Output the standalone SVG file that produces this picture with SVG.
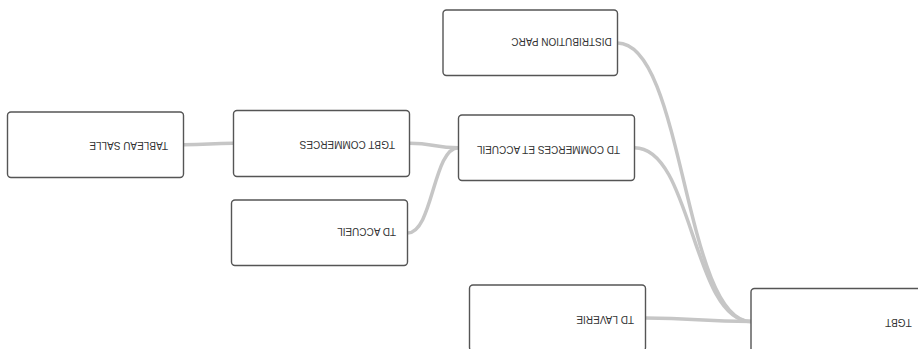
<svg xmlns="http://www.w3.org/2000/svg" width="918" height="349" viewBox="0 0 918 349">
<style>
.box{fill:#ffffff;stroke:#555555;stroke-width:1.4}
.lbl{font-family:"Liberation Sans",Arial,sans-serif;font-size:10px;fill:#333333}
.edge{fill:none;stroke:#c6c6c6;stroke-width:3.5}
</style>
<rect width="918" height="349" fill="#ffffff"/>
<g id="connectors">
<path class="edge" d="M183.5,144.7 C209,144.7 209,143.3 233.5,143.3"/>
<path class="edge" d="M409.5,143.3 C434,143.3 434,147.7 458.5,147.7"/>
<path class="edge" d="M407.5,233 C433,233 433,147.7 458.5,147.7"/>
<path class="edge" d="M617.5,43 C684,43 684,321.5 751,321.5"/>
<path class="edge" d="M634.5,147.7 C692.5,147.7 692.5,321.5 751,321.5"/>
<path class="edge" d="M645.5,318 C698,318 698,321.5 751,321.5"/>
</g>
<g id="node-distribution-parc">
<rect class="box" x="443" y="10" width="174.5" height="65.5" rx="3.5"/>
<text class="lbl" x="611.7" y="37.5" transform="rotate(180 611.7 37.5)">DISTRIBUTION PARC</text>
</g>
<g id="node-tableau-salle">
<rect class="box" x="7.5" y="112" width="176" height="65.5" rx="3.5"/>
<text class="lbl" x="168" y="142" transform="rotate(180 168 142)">TABLEAU SALLE</text>
</g>
<g id="node-tgbt-commerces">
<rect class="box" x="233.5" y="110.5" width="176" height="66" rx="3.5"/>
<text class="lbl" x="395" y="141" transform="rotate(180 395 141)">TGBT COMMERCES</text>
</g>
<g id="node-td-commerces-accueil">
<rect class="box" x="458.5" y="115" width="176" height="65.5" rx="3.5"/>
<text class="lbl" x="620" y="146" transform="rotate(180 620 146)">TD COMMERCES ET ACCUEIL</text>
</g>
<g id="node-td-accueil">
<rect class="box" x="231.5" y="200" width="176" height="65.5" rx="3.5"/>
<text class="lbl" x="396" y="227.5" transform="rotate(180 396 227.5)">TD ACCUEIL</text>
</g>
<g id="node-td-laverie">
<rect class="box" x="469.5" y="285" width="176" height="66" rx="3.5"/>
<text class="lbl" x="634" y="316" transform="rotate(180 634 316)">TD LAVERIE</text>
</g>
<g id="node-tgbt">
<rect class="box" x="751" y="288.5" width="176" height="66" rx="3.5"/>
<text class="lbl" x="911.7" y="319" transform="rotate(180 911.7 319)">TGBT</text>
</g>
</svg>
